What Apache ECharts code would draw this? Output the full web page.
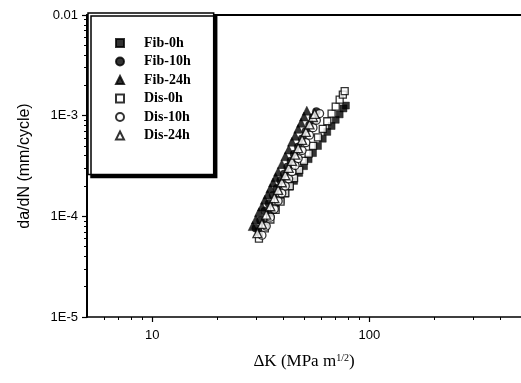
<!DOCTYPE html>
<html>
<head>
<meta charset="utf-8">
<script src="https://cdn.jsdelivr.net/npm/echarts@6/dist/echarts.min.js"></script>
<style>html,body{margin:0;padding:0;background:#fff}#c{width:521px;height:383px}</style>
</head>
<body>
<div id="c"></div>
<script>
// ---- data ----
const seriesNames = ['Fib-0h', 'Fib-10h', 'Fib-24h', 'Dis-0h', 'Dis-10h', 'Dis-24h'];

const fib0hK   = [31, 33, 35, 37, 39, 41, 43, 45, 47.5, 50, 52.5, 55, 58, 61, 64, 67, 70, 73, 76, 78];
const fib0hDa  = [7.1e-5, 8.4e-5, 1.04e-4, 1.21e-4, 1.45e-4, 1.68e-4, 1.97e-4, 2.25e-4, 2.7e-4, 3.15e-4, 3.7e-4, 4.25e-4, 5.0e-4, 5.9e-4, 6.9e-4, 7.9e-4, 9.1e-4, 1.03e-3, 1.18e-3, 1.26e-3];

const fib10hK  = [30, 31.5, 33, 34.5, 36, 37.5, 39, 40.5, 42, 43.5, 45, 47, 49, 51, 53, 55, 57];
const fib10hDa = [7.6e-5, 9.1e-5, 1.13e-4, 1.34e-4, 1.62e-4, 1.9e-4, 2.27e-4, 2.64e-4, 3.1e-4, 3.55e-4, 4.15e-4, 4.9e-4, 5.9e-4, 7.0e-4, 8.1e-4, 9.6e-4, 1.1e-3];

const fib24hK  = [29, 30, 31, 32, 33, 34, 35, 36, 37, 38, 39.5, 41, 42.5, 44, 45.5, 47, 48.5, 50, 51.5];
const fib24hDa = [8.0e-5, 9.3e-5, 1.1e-4, 1.25e-4, 1.46e-4, 1.65e-4, 1.9e-4, 2.17e-4, 2.44e-4, 2.78e-4, 3.3e-4, 3.95e-4, 4.6e-4, 5.5e-4, 6.3e-4, 7.4e-4, 8.5e-4, 9.8e-4, 1.12e-3];

const dis0hK   = [31, 33, 35, 37, 39, 41, 43, 45, 47.5, 50, 52.5, 55, 58, 61, 64, 67, 70, 73, 75.5, 77];
const dis0hDa  = [6.0e-5, 7.6e-5, 9.3e-5, 1.16e-4, 1.4e-4, 1.7e-4, 2.0e-4, 2.4e-4, 2.9e-4, 3.55e-4, 4.2e-4, 5.0e-4, 6.1e-4, 7.4e-4, 8.8e-4, 1.05e-3, 1.23e-3, 1.44e-3, 1.62e-3, 1.75e-3];

const dis10hK  = [32, 33.5, 35, 36.5, 38, 39.5, 41, 42.5, 44, 45.5, 47, 49, 51, 53, 55, 57, 59];
const dis10hDa = [6.5e-5, 8.0e-5, 9.8e-5, 1.18e-4, 1.42e-4, 1.7e-4, 2.0e-4, 2.36e-4, 2.78e-4, 3.2e-4, 3.75e-4, 4.5e-4, 5.4e-4, 6.4e-4, 7.6e-4, 9.0e-4, 1.05e-3];

const dis24hK  = [30.5, 32, 33.5, 35, 36.5, 38, 39.5, 41, 42.5, 44, 45.5, 47, 49, 51, 53, 55, 56];
const dis24hDa = [6.8e-5, 8.4e-5, 1.04e-4, 1.26e-4, 1.52e-4, 1.83e-4, 2.18e-4, 2.56e-4, 3.03e-4, 3.55e-4, 4.1e-4, 4.75e-4, 5.75e-4, 6.9e-4, 8.2e-4, 9.7e-4, 1.04e-3];

const xMajorTicks = [10, 100];
const xMinorTicks = [6, 7, 8, 9, 20, 30, 40, 50, 60, 70, 80, 90, 200, 300, 400];
const xTickLabels = ['10', '100'];
const yMajorTicks = [1e-5, 1e-4, 1e-3, 1e-2];
const yMinorTicks = [2e-5,3e-5,4e-5,5e-5,6e-5,7e-5,8e-5,9e-5,2e-4,3e-4,4e-4,5e-4,6e-4,7e-4,8e-4,9e-4,2e-3,3e-3,4e-3,5e-3,6e-3,7e-3,8e-3,9e-3];
const yTickLabels = ['1E-5', '1E-4', '1E-3', '0.01'];

// ---- chart ----
const pairs = (xs, ys) => xs.map((x, i) => [x, ys[i]]);
const seriesData = [
  pairs(fib0hK, fib0hDa), pairs(fib10hK, fib10hDa), pairs(fib24hK, fib24hDa),
  pairs(dis0hK, dis0hDa), pairs(dis10hK, dis10hDa), pairs(dis24hK, dis24hDa)
];
const symbols = ['rect', 'circle', 'triangle', 'rect', 'circle', 'triangle'];
const sizes = [7, 8, 9, 7, 8, 9];
const filled = [true, true, true, false, false, false];

const series = seriesNames.map((n, i) => ({
  name: n, type: 'scatter', xAxisIndex: 0, yAxisIndex: 0,
  symbol: symbols[i], symbolSize: sizes[i],
  data: seriesData[i],
  itemStyle: filled[i] ? { color: '#000', borderColor: '#000', borderWidth: 0.5 }
                       : { color: '#fff', borderColor: '#000', borderWidth: 1.3 },
  emphasis: { disabled: true }
}));

const axisBase = { type: 'log', logBase: 10 };
const option = {
  animation: false,
  backgroundColor: '#fff',
  grid: { left: 87, top: 15, right: -4, bottom: 66, containLabel: false },
  legend: {
    orient: 'vertical', left: 88, top: 13,
    data: seriesNames,
    itemWidth: 8, itemHeight: 8, itemGap: 4.5,
    padding: [23, 23, 32, 27],
    backgroundColor: '#fff', borderColor: '#000', borderWidth: 1.5,
    shadowColor: '#000', shadowBlur: 0, shadowOffsetX: 3, shadowOffsetY: 3,
    textStyle: { fontFamily: 'Liberation Serif', fontWeight: 'bold', fontSize: 14, color: '#000', lineHeight: 14, padding: [0, 0, 0, 15] },
    selectedMode: false
  },
  xAxis: [
    Object.assign({}, axisBase, {
      min: 5, max: 500, position: 'bottom',
      name: '{a|ΔK (MPa m}{s|1/2}{a|)}', nameLocation: 'middle', nameGap: 36,
      nameTextStyle: { rich: {
        a: { fontFamily: 'Liberation Serif', fontSize: 17, color: '#000' },
        s: { fontFamily: 'Liberation Serif', fontSize: 10, color: '#000', verticalAlign: 'top', padding: [0, 0, 8, 0] }
      } },
      axisLine: { show: true, lineStyle: { color: '#000', width: 1.5 } },
      axisTick: { show: true, inside: false, length: 5, customValues: xMajorTicks, lineStyle: { color: '#000', width: 1.2 } },
      axisLabel: { customValues: xMajorTicks, margin: 12, fontFamily: 'Liberation Sans', fontSize: 13, color: '#000',
        formatter: v => xTickLabels[xMajorTicks.findIndex(t => Math.abs(t - v) / t < 1e-6)] || '' },
      splitLine: { show: false }
    }),
    Object.assign({}, axisBase, {
      min: 5, max: 500, position: 'bottom',
      axisLine: { show: false },
      axisTick: { show: true, inside: false, length: 3, customValues: xMinorTicks, lineStyle: { color: '#000', width: 1 } },
      axisLabel: { show: false }, splitLine: { show: false }
    }),
    Object.assign({}, axisBase, {
      min: 5, max: 500, position: 'top',
      axisLine: { show: true, lineStyle: { color: '#000', width: 2 } },
      axisTick: { show: false }, axisLabel: { show: false }, splitLine: { show: false }
    })
  ],
  yAxis: [
    Object.assign({}, axisBase, {
      min: 1e-5, max: 1e-2, position: 'left',
      name: 'da/dN (mm/cycle)', nameLocation: 'middle', nameGap: 54,
      nameTextStyle: { fontFamily: 'Liberation Sans', fontSize: 16, color: '#000' },
      axisLine: { show: true, lineStyle: { color: '#000', width: 2 } },
      axisTick: { show: true, inside: false, length: 5, customValues: yMajorTicks, lineStyle: { color: '#000', width: 1.2 } },
      axisLabel: { customValues: yMajorTicks, margin: 9, fontFamily: 'Liberation Sans', fontSize: 13, color: '#000',
        formatter: v => yTickLabels[yMajorTicks.findIndex(t => Math.abs(t - v) / t < 1e-6)] || '' },
      splitLine: { show: false }
    }),
    Object.assign({}, axisBase, {
      min: 1e-5, max: 1e-2, position: 'left',
      axisLine: { show: false },
      axisTick: { show: true, inside: false, length: 3, customValues: yMinorTicks, lineStyle: { color: '#000', width: 1 } },
      axisLabel: { show: false }, splitLine: { show: false }
    })
  ],
  series: series
};

const chart = echarts.init(document.getElementById('c'), null, { renderer: 'canvas' });
chart.setOption(option);
</script>
</body>
</html>
